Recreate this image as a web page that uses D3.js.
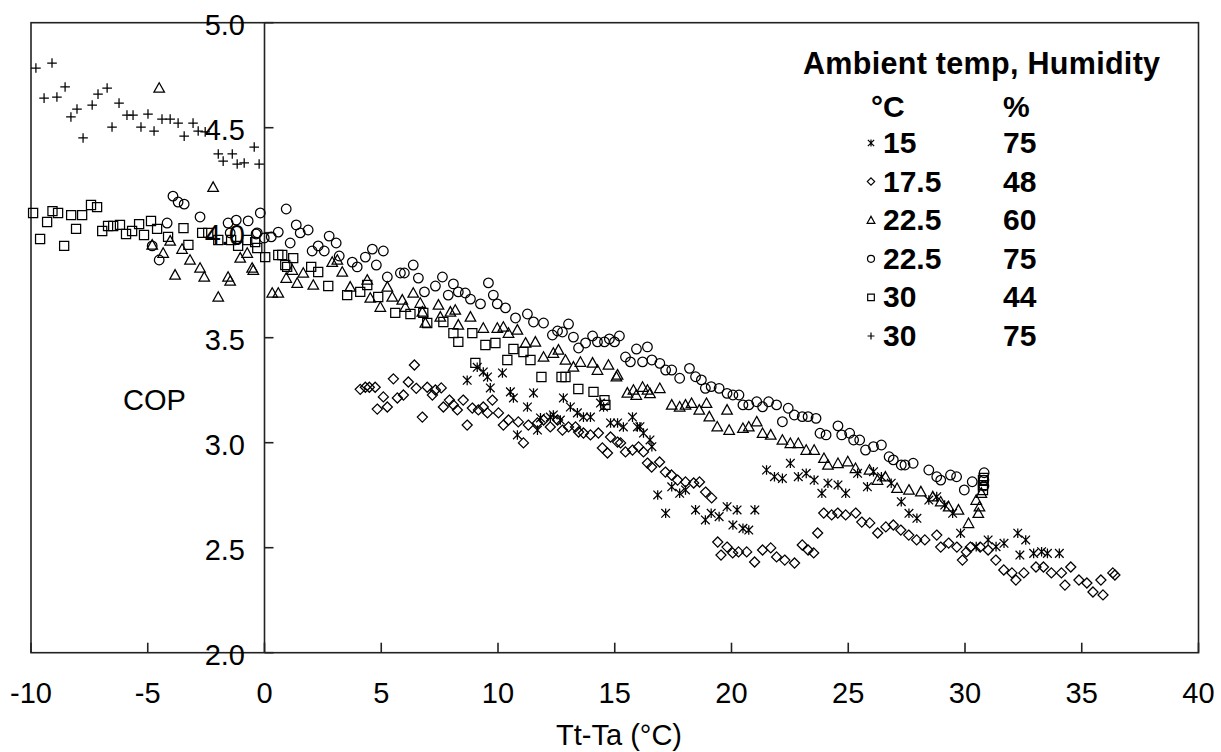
<!DOCTYPE html>
<html><head><meta charset="utf-8">
<script src="https://cdn.jsdelivr.net/npm/d3@7"></script>
<style>
body{margin:0;background:#fff}
svg{display:block}
text{font-family:Arial,"Liberation Sans",sans-serif;fill:#000}
</style>
</head><body>
<svg id="chart" width="1221" height="752"></svg>
<script>
// ---- data ----
const xTicks = [-10, -5, 0, 5, 10, 15, 20, 25, 30, 35, 40];
const yTicks = [2.0, 2.5, 3.0, 3.5, 4.0, 4.5, 5.0];
const xTitle = "Tt-Ta (°C)";
const yTitle = "COP";
const legendTitle = "Ambient temp, Humidity";
const legendUnits = ["°C", "%"];
const legendTemps = ["15", "17.5", "22.5", "22.5", "30", "30"];
const legendHums = ["75", "48", "60", "75", "44", "75"];
const legendShapes = ["asterisk", "diamond", "triangle", "circle", "square", "plus"];

// 15 °C, 75 %
const s15_75 = [[8.68,3.297],[9.11,3.359],[9.37,3.337],[9.55,3.313],[9.67,3.261],[10.19,3.332],[10.53,3.242],[10.66,3.213],[10.83,3.037],[11.26,3.170],[11.52,3.237],[11.69,3.060],[11.82,3.118],[12.24,3.122],[12.37,3.132],[12.67,3.108],[12.80,3.213],[13.10,3.170],[13.40,3.142],[13.66,3.122],[13.96,3.122],[14.39,3.189],[14.52,3.170],[14.82,3.094],[15.12,3.094],[15.37,3.075],[15.76,3.122],[15.97,3.075],[16.08,3.076],[16.23,3.046],[16.51,3.013],[16.59,2.981],[16.84,2.751],[17.18,2.664],[17.44,2.790],[17.78,2.759],[18.03,2.775],[18.46,2.680],[18.88,2.632],[19.13,2.664],[19.47,2.648],[19.81,2.695],[20.06,2.608],[20.24,2.680],[20.49,2.592],[20.74,2.584],[21.00,2.680],[21.50,2.870],[21.84,2.838],[22.18,2.830],[22.52,2.902],[22.86,2.838],[23.20,2.854],[23.54,2.822],[23.87,2.759],[24.13,2.807],[24.56,2.799],[24.89,2.759],[25.40,2.854],[25.82,2.790],[26.08,2.862],[26.42,2.838],[26.84,2.807],[27.27,2.719],[27.60,2.664],[27.94,2.640],[28.45,2.727],[28.79,2.743],[29.13,2.703],[29.47,2.664],[29.81,2.569],[30.48,2.505],[30.99,2.537],[31.33,2.505],[31.67,2.521],[32.26,2.569],[32.60,2.537],[32.35,2.465],[32.94,2.473],[33.28,2.481],[33.53,2.473],[34.04,2.473]];

// 17.5 °C, 48 %
const s175_48 = [[4.10,3.254],[4.32,3.264],[4.49,3.264],[4.74,3.264],[4.83,3.160],[5.09,3.218],[5.26,3.170],[5.52,3.304],[5.69,3.213],[5.95,3.227],[6.16,3.289],[6.42,3.370],[6.50,3.259],[6.76,3.122],[6.97,3.264],[7.19,3.227],[7.32,3.251],[7.57,3.261],[7.66,3.170],[7.92,3.203],[8.09,3.180],[8.26,3.156],[8.51,3.203],[8.68,3.084],[8.90,3.165],[9.16,3.156],[9.37,3.170],[9.55,3.142],[9.76,3.203],[10.02,3.142],[10.23,3.084],[10.45,3.108],[10.87,3.099],[11.09,2.999],[11.30,3.084],[11.69,3.094],[11.95,3.108],[12.24,3.075],[12.55,3.108],[12.76,3.060],[13.02,3.075],[13.32,3.075],[13.45,3.051],[13.66,3.046],[13.96,3.037],[14.30,3.046],[14.47,2.975],[14.69,2.951],[14.82,3.027],[15.12,3.003],[15.25,2.999],[15.46,2.956],[15.76,2.965],[16.02,2.980],[16.23,2.956],[16.40,2.903],[16.58,2.884],[16.92,2.908],[17.17,2.860],[17.43,2.846],[17.69,2.822],[18.03,2.813],[18.38,2.808],[18.63,2.813],[18.89,2.765],[19.15,2.737],[19.41,2.527],[19.55,2.465],[19.81,2.503],[20.05,2.475],[20.30,2.480],[20.65,2.480],[20.99,2.432],[21.33,2.489],[21.68,2.499],[21.93,2.456],[22.28,2.441],[22.70,2.427],[23.03,2.513],[23.28,2.489],[23.52,2.475],[23.69,2.570],[23.95,2.665],[24.29,2.656],[24.55,2.665],[24.89,2.656],[25.32,2.665],[25.58,2.622],[25.92,2.618],[26.26,2.570],[26.61,2.599],[26.93,2.608],[27.25,2.584],[27.59,2.560],[27.93,2.537],[28.28,2.537],[28.79,2.560],[28.96,2.503],[29.30,2.522],[29.65,2.503],[29.89,2.441],[30.06,2.480],[30.23,2.503],[30.65,2.503],[30.99,2.489],[31.32,2.441],[31.66,2.394],[32.01,2.380],[32.18,2.346],[32.52,2.380],[33.04,2.408],[33.36,2.408],[33.70,2.380],[34.13,2.380],[34.28,2.322],[34.53,2.408],[34.88,2.346],[35.22,2.332],[35.48,2.289],[35.91,2.275],[35.82,2.346],[36.33,2.380],[36.42,2.370]];

// 22.5 °C, 60 %
const s225_60 = [[-4.51,4.689],[-2.20,4.217],[-4.81,3.942],[-4.34,3.903],[-4.04,3.961],[-3.53,3.922],[-3.83,3.799],[-2.76,3.832],[-2.58,3.789],[-3.19,3.870],[-1.98,3.694],[-1.47,3.770],[-1.56,3.789],[-1.04,3.880],[-0.53,3.832],[-0.74,3.903],[-0.48,3.822],[0.33,3.713],[0.59,3.713],[0.93,3.784],[1.19,3.822],[1.40,3.760],[1.66,3.808],[2.09,3.751],[2.90,3.860],[3.12,3.870],[3.33,3.813],[3.67,3.742],[4.40,3.775],[4.53,3.689],[4.96,3.646],[5.26,3.742],[5.47,3.694],[5.90,3.680],[6.03,3.646],[6.37,3.713],[6.67,3.665],[6.76,3.623],[6.89,3.570],[7.45,3.656],[7.53,3.599],[7.96,3.623],[8.17,3.632],[8.30,3.561],[8.82,3.599],[9.37,3.546],[9.97,3.546],[10.23,3.551],[10.45,3.522],[10.83,3.537],[11.18,3.475],[11.60,3.480],[11.95,3.408],[12.37,3.427],[12.59,3.442],[12.89,3.394],[13.23,3.361],[13.53,3.384],[14.05,3.380],[14.26,3.346],[14.73,3.370],[15.07,3.314],[15.12,3.323],[15.54,3.237],[15.80,3.251],[15.92,3.227],[16.19,3.265],[16.40,3.251],[16.51,3.235],[16.93,3.259],[17.44,3.180],[17.78,3.171],[18.03,3.180],[18.29,3.188],[18.62,3.156],[18.93,3.188],[19.05,3.124],[19.39,3.076],[19.81,3.156],[19.90,3.060],[20.49,3.069],[20.74,3.076],[21.08,3.100],[21.33,3.045],[21.68,3.037],[22.18,3.013],[22.52,2.997],[22.86,2.997],[23.20,2.965],[23.54,2.965],[23.96,2.926],[24.13,2.894],[24.56,2.902],[24.98,2.910],[25.31,2.878],[25.91,2.870],[26.25,2.822],[26.59,2.838],[27.09,2.783],[27.60,2.775],[28.11,2.767],[28.62,2.743],[28.96,2.719],[29.30,2.695],[29.72,2.680],[30.15,2.616],[30.48,2.727],[30.57,2.664],[30.62,2.695],[30.70,2.760]];

// 22.5 °C, 75 %
const s225_75 = [[-3.92,4.174],[-3.70,4.146],[-3.44,4.136],[-2.76,4.075],[-4.17,4.046],[-4.51,3.870],[-4.81,3.937],[-1.56,4.046],[-1.21,4.060],[-0.70,4.056],[-0.18,4.094],[-1.47,3.999],[-0.31,3.999],[-0.36,3.994],[-0.01,3.975],[0.29,3.980],[0.59,4.003],[0.93,4.113],[1.10,3.951],[1.36,4.037],[1.53,3.999],[1.87,4.013],[2.04,3.913],[2.30,3.937],[2.56,3.913],[2.77,3.984],[3.07,3.951],[3.20,3.889],[3.76,3.860],[3.97,3.837],[4.32,3.884],[4.62,3.922],[4.79,3.846],[5.09,3.913],[5.26,3.789],[5.82,3.808],[5.99,3.808],[6.37,3.846],[6.59,3.784],[6.85,3.718],[7.32,3.746],[7.62,3.789],[7.87,3.703],[8.09,3.756],[8.30,3.718],[8.60,3.713],[8.82,3.684],[9.25,3.661],[9.59,3.761],[9.80,3.703],[9.97,3.661],[10.32,3.642],[10.75,3.594],[11.26,3.613],[11.52,3.575],[11.95,3.570],[12.33,3.513],[12.55,3.532],[12.76,3.527],[13.02,3.565],[13.23,3.503],[13.45,3.451],[13.75,3.475],[14.05,3.508],[14.26,3.480],[14.56,3.480],[14.77,3.494],[14.99,3.480],[15.20,3.508],[15.46,3.408],[15.67,3.385],[15.93,3.446],[16.19,3.385],[16.40,3.456],[16.59,3.394],[16.93,3.378],[17.18,3.346],[17.44,3.346],[17.78,3.307],[18.20,3.354],[18.46,3.314],[18.71,3.299],[18.88,3.259],[19.13,3.267],[19.47,3.259],[19.81,3.235],[20.06,3.227],[20.32,3.227],[20.49,3.180],[20.74,3.180],[21.08,3.195],[21.33,3.171],[21.59,3.195],[21.93,3.180],[22.18,3.100],[22.43,3.164],[22.69,3.132],[23.03,3.124],[23.28,3.124],[23.62,3.116],[23.79,3.045],[24.05,3.037],[24.56,3.080],[24.72,3.037],[25.06,3.045],[25.23,3.013],[25.49,3.013],[25.74,2.965],[26.08,2.981],[26.42,2.989],[26.75,2.933],[26.93,2.918],[27.27,2.894],[27.43,2.894],[27.78,2.902],[28.45,2.870],[28.79,2.838],[28.96,2.822],[29.38,2.846],[29.64,2.838],[29.97,2.775],[30.31,2.814],[30.82,2.857],[30.81,2.822],[30.81,2.794]];

// 30 °C, 44 %
const s30_44 = [[-9.91,4.094],[-9.61,3.970],[-9.31,4.051],[-9.08,4.103],[-8.84,4.094],[-8.58,3.937],[-8.28,4.084],[-8.07,4.018],[-7.81,4.084],[-7.43,4.132],[-7.17,4.122],[-6.95,4.008],[-6.70,4.032],[-6.48,4.032],[-6.19,4.037],[-5.93,3.994],[-5.67,4.008],[-5.37,4.041],[-5.16,3.989],[-4.86,4.056],[-4.60,4.018],[-4.13,3.980],[-3.47,4.022],[-3.26,3.942],[-2.67,3.999],[-2.41,3.999],[-1.98,3.965],[-1.43,3.965],[-1.13,3.937],[-0.74,3.965],[-0.31,3.927],[-0.40,3.955],[0.03,3.884],[0.59,3.894],[0.76,3.894],[0.89,3.846],[0.97,3.837],[1.23,3.879],[2.00,3.837],[2.30,3.813],[2.73,3.746],[3.54,3.703],[4.10,3.718],[4.40,3.751],[4.87,3.694],[5.60,3.618],[6.25,3.613],[6.80,3.618],[6.97,3.570],[7.66,3.575],[8.09,3.522],[8.30,3.480],[8.90,3.522],[9.03,3.380],[9.46,3.465],[9.89,3.475],[10.40,3.394],[10.66,3.446],[11.09,3.432],[11.39,3.394],[11.86,3.313],[12.72,3.313],[12.89,3.313],[13.44,3.256],[14.09,3.242],[14.56,3.203],[14.60,3.180],[30.77,2.822],[30.77,2.798],[30.77,2.775],[30.80,2.832]];

// 30 °C, 75 %
const s30_75 = [[-9.79,4.784],[-9.10,4.808],[-9.44,4.641],[-8.89,4.646],[-8.54,4.694],[-8.29,4.551],[-8.03,4.589],[-7.77,4.451],[-7.38,4.608],[-7.13,4.660],[-6.74,4.689],[-6.53,4.503],[-6.23,4.617],[-5.89,4.560],[-5.63,4.560],[-5.29,4.503],[-4.99,4.565],[-4.73,4.484],[-4.39,4.541],[-4.04,4.541],[-3.70,4.522],[-3.44,4.460],[-3.06,4.522],[-2.84,4.484],[-2.54,4.480],[-1.98,4.375],[-1.77,4.341],[-1.38,4.375],[-1.17,4.327],[-0.87,4.332],[-0.44,4.408],[-0.23,4.327]];

const seriesData = [s15_75, s175_48, s225_60, s225_75, s30_44, s30_75];

// ---- chart ----
const svg = d3.select("#chart");
const x = d3.scaleLinear().domain([-10, 40]).range([31, 1198.5]);
const y = d3.scaleLinear().domain([2, 5]).range([652.7, 22.7]);

function shapePath(shape, s) {
  const p = d3.path();
  if (shape === "circle") { p.moveTo(s, 0); p.arc(0, 0, s, 0, 2 * Math.PI); }
  else if (shape === "square") { const h = s * 0.95; p.rect(-h, -h, 2 * h, 2 * h); }
  else if (shape === "triangle") { const h = s * 1.1; p.moveTo(0, -h); p.lineTo(h, h * 0.8); p.lineTo(-h, h * 0.8); p.closePath(); }
  else if (shape === "diamond") { const h = s * 1.05; p.moveTo(0, -h); p.lineTo(h, 0); p.lineTo(0, h); p.lineTo(-h, 0); p.closePath(); }
  else if (shape === "plus") { p.moveTo(-s, 0); p.lineTo(s, 0); p.moveTo(0, -s); p.lineTo(0, s); }
  else if (shape === "asterisk") { const d = s * 0.9; p.moveTo(-d, -d); p.lineTo(d, d); p.moveTo(-d, d); p.lineTo(d, -d); p.moveTo(0, -s); p.lineTo(0, s); }
  return p.toString();
}

// frame
svg.append("rect").attr("x", x(-10)).attr("y", y(5)).attr("width", x(40) - x(-10)).attr("height", y(2) - y(5))
  .attr("fill", "none").attr("stroke", "#222").attr("stroke-width", 1.6);

// y axis at x = 0
svg.append("line").attr("x1", x(0)).attr("x2", x(0)).attr("y1", y(5)).attr("y2", y(2))
  .attr("stroke", "#222").attr("stroke-width", 1.6);
svg.selectAll(".ytick").data(yTicks).enter().append("line")
  .attr("x1", x(0)).attr("x2", x(0) + 9).attr("y1", d => y(d)).attr("y2", d => y(d))
  .attr("stroke", "#222").attr("stroke-width", 1.6);
svg.selectAll(".xtick").data(xTicks).enter().append("line")
  .attr("x1", d => x(d)).attr("x2", d => x(d)).attr("y1", y(2)).attr("y2", y(2) - 10)
  .attr("stroke", "#222").attr("stroke-width", 1.6);

// series
const g = svg.append("g");
seriesData.forEach((data, i) => {
  g.selectAll(null).data(data).enter().append("path")
    .attr("transform", d => `translate(${x(d[0])},${y(d[1])})`)
    .attr("d", shapePath(legendShapes[i], 4.8))
    .attr("fill", "none").attr("stroke", "#000").attr("stroke-width", 1.25);
});

// tick labels
svg.selectAll(".ylab").data(yTicks).enter().append("text")
  .attr("x", 245).attr("y", d => y(d) + 12.3).attr("text-anchor", "end")
  .style("font-size", "29px").text(d => d.toFixed(1));
svg.selectAll(".xlab").data(xTicks).enter().append("text")
  .attr("x", d => x(d)).attr("y", 703).attr("text-anchor", "middle")
  .style("font-size", "29px").text(d => d);

// axis titles
svg.append("text").attr("x", 619).attr("y", 745).attr("text-anchor", "middle")
  .style("font-size", "29px").text(xTitle);
svg.append("text").attr("x", 123).attr("y", 410)
  .style("font-size", "29px").text(yTitle);

// legend
const lg = svg.append("g").style("font-weight", "bold");
lg.append("text").attr("x", 803).attr("y", 74).style("font-size", "30.5px").style("letter-spacing", "0.3px").text(legendTitle);
lg.append("text").attr("x", 871).attr("y", 117).style("font-size", "30px").text(legendUnits[0]);
lg.append("text").attr("x", 1003).attr("y", 117).style("font-size", "30px").text(legendUnits[1]);
legendTemps.forEach((t, i) => {
  const by = 153 + i * 38.6;
  lg.append("path").attr("transform", `translate(871,${by - 10})`)
    .attr("d", shapePath(legendShapes[i], 3.5))
    .attr("fill", "none").attr("stroke", "#000").attr("stroke-width", 1.2);
  lg.append("text").attr("x", 883).attr("y", by).style("font-size", "30px").text(t);
  lg.append("text").attr("x", 1003).attr("y", by).style("font-size", "30px").text(legendHums[i]);
});
</script>
</body></html>
